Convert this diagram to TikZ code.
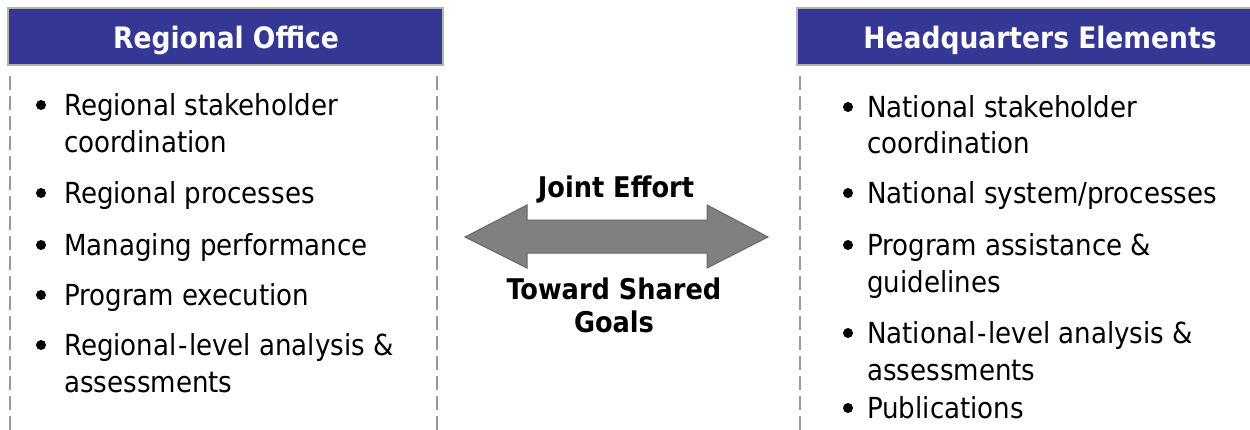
\documentclass[tikz,border=0pt]{standalone}
\usepackage{fontspec}
\setmainfont{DejaVu Sans Condensed}
\newcommand{\wdash}{\kern1.5pt-\kern1.5pt}
\begin{document}
\begin{tikzpicture}[x=1pt,y=-1pt,
  hdr/.style={draw=black!30,line width=1.2pt,fill=hdrblue},
  hdrtext/.style={text=white,font=\fontsize{29.5}{34}\selectfont\bfseries,anchor=base,inner sep=0pt},
  item/.style={anchor=base west,inner sep=0pt,font=\fontsize{29}{34}\selectfont,text=black},
  dot/.style={circle,fill=black,inner sep=0pt,minimum size=10pt},
  sep/.style={draw=black!40,line width=1.3pt,dash pattern=on 14pt off 6pt},
  mid/.style={anchor=base,font=\fontsize{28.5}{33}\selectfont\bfseries,text=black,inner sep=0pt}]
\definecolor{hdrblue}{HTML}{353795}
\definecolor{arrgray}{HTML}{808080}
\useasboundingbox (0,0) rectangle (1250,429);
\fill[white] (0,0) rectangle (1250,429);
% headers
\draw[hdr] (8,8) rectangle (443,65);
\node[hdrtext] (h1) at (226,48) {Regional Office};
\draw[hdr] (797,8) rectangle (1256,65);
\node[hdrtext] (h2) at (1040,48) {Headquarters Elements};
% separators
\draw[sep] (10,76) -- (10,432);
\draw[sep] (437,76) -- (437,432);
\draw[sep] (800,76) -- (800,432);
% left items
\foreach \y/\t in {115/{Regional stakeholder},152/{coordination},203/{Regional processes},255/{Managing performance},305/{Program execution},355/{Regional\wdash level analysis \&},392/{assessments}}
  \node[item] at (64,\y) {\t};
\foreach \y in {115,203,255,305,355}
  \node[dot] at (41,\y-10) {};
% right items
\foreach \y/\t in {117/{National stakeholder},153/{coordination},203/{National system/processes},255/{Program assistance \&},292/{guidelines},343/{National\wdash level analysis \&},380/{assessments},418/{Publications}}
  \node[item] at (867,\y) {\t};
\foreach \y in {117,203,255,343,418}
  \node[dot] at (848,\y-10) {};
% arrow
\draw[draw=black!60,fill=arrgray,line width=1pt]
  (465,237) -- (527,205) -- (527,220) -- (707,220) -- (707,205) -- (768,237)
  -- (707,268) -- (707,253) -- (527,253) -- (527,268) -- cycle;
\node[mid] (je) at (616,197) {Joint Effort};
\node[mid] (ts) at (614,299) {Toward Shared};
\node[mid] (go) at (614,332) {Goals};
\end{tikzpicture}
\end{document}
